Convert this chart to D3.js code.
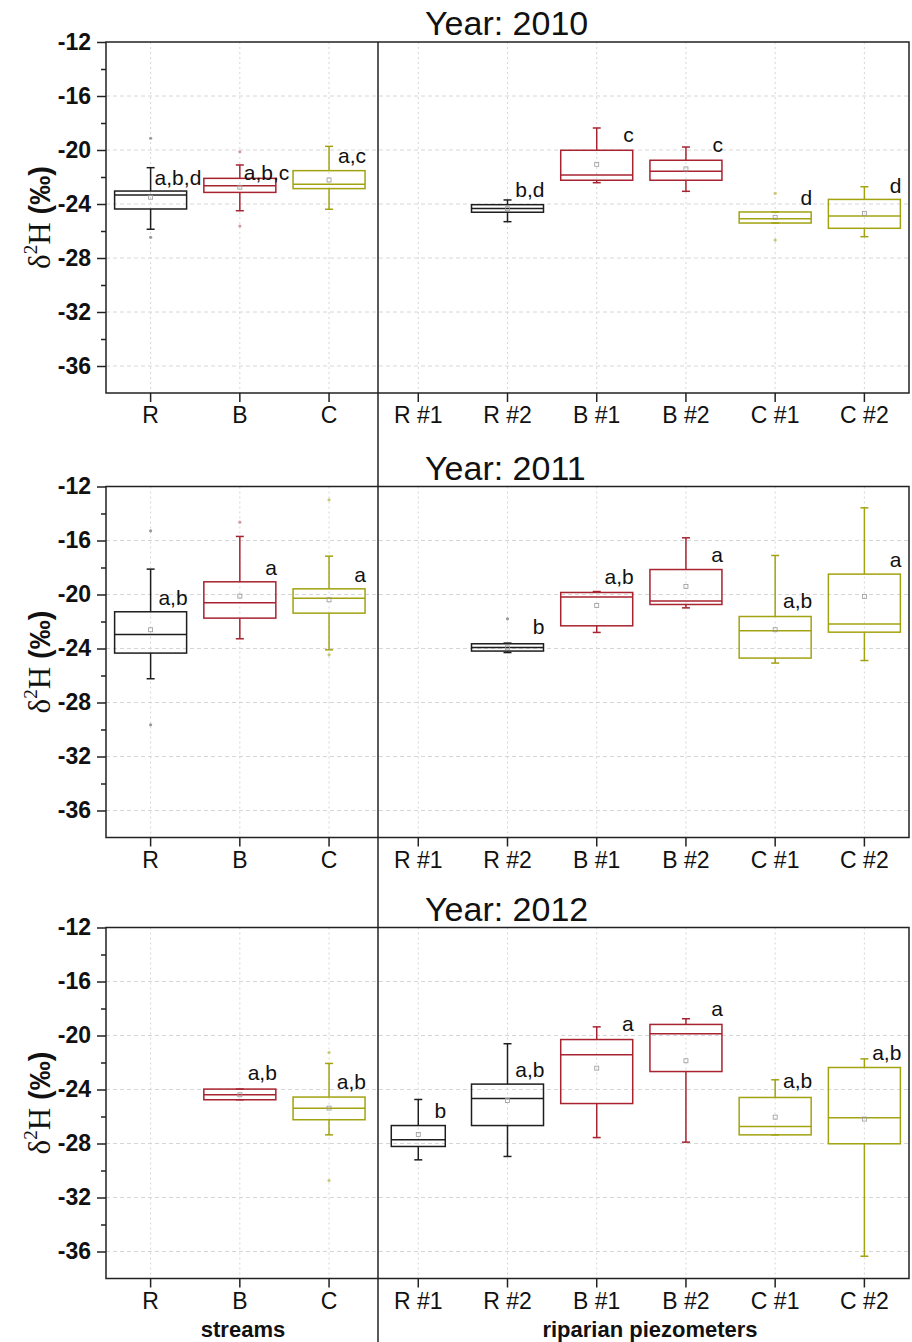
<!DOCTYPE html>
<html>
<head>
<meta charset="utf-8">
<script src="https://cdn.jsdelivr.net/npm/d3@7"></script>
<style>
body { margin: 0; background: #fff; }
svg text { font-family: "Liberation Sans", Arial, sans-serif; }
</style>
</head>
<body>
<div id="chart"></div>
<script>
// sites on the x axis: 3 streams, then 6 riparian piezometers
var sites = ["R", "B", "C", "R #1", "R #2", "B #1", "B #2", "C #1", "C #2"];
var years = ["2010", "2011", "2012"];
var yTicks = [-12, -16, -20, -24, -28, -32, -36];
var yMinor = [-14, -18, -22, -26, -30, -34];

// box stats per site: [whisker low, Q1, median, Q3, whisker high]
var box2010 = [
    [-25.87, -24.37, -23.33, -23.04, -21.31],
    [-24.50, -23.14, -22.64, -22.10, -21.11],
    [-24.39, -22.86, -22.54, -21.53, -19.73],
    null,
    [-25.31, -24.61, -24.34, -24.05, -23.70],
    [-22.42, -22.24, -21.85, -20.02, -18.37],
    [-23.06, -22.24, -21.58, -20.76, -19.78],
    [-25.41, -25.41, -25.09, -24.59, -24.59],
    [-26.42, -25.80, -24.89, -23.66, -22.72]
];
var box2011 = [
    [-26.24, -24.34, -22.96, -21.28, -18.12],
    [-23.28, -21.75, -20.61, -19.06, -15.70],
    [-24.10, -21.38, -20.27, -19.58, -17.16],
    null,
    [-24.30, -24.19, -23.93, -23.65, -23.60],
    [-22.81, -22.32, -20.19, -19.85, -19.78],
    [-20.99, -20.74, -20.49, -18.15, -15.80],
    [-25.08, -24.71, -22.69, -21.63, -17.11],
    [-24.89, -22.79, -22.19, -18.49, -13.58]
];
var box2012 = [
    null,
    [-24.76, -24.76, -24.39, -23.97, -23.97],
    [-27.36, -26.24, -25.38, -24.56, -22.07],
    [-29.21, -28.22, -27.73, -26.67, -24.74],
    [-28.96, -26.67, -24.67, -23.60, -20.61],
    [-27.56, -25.04, -21.43, -20.30, -19.36],
    [-27.90, -22.67, -19.87, -19.18, -18.76],
    [-27.36, -27.36, -26.74, -24.59, -23.28],
    [-36.35, -28.02, -26.10, -22.37, -21.73]
];

// means
var mean2010 = [-23.50, -22.76, -22.22, null, -24.35, -21.06, -21.40, -24.99, -24.69];
var mean2011 = [-22.61, -20.12, -20.39, null, -23.95, -20.81, -19.41, -22.61, -20.15];
var mean2012 = [null, -24.39, -25.38, -27.33, -24.81, -22.42, -21.87, -26.05, -26.19];

// outliers
var out2010 = [[-19.13, -26.47], [-20.13, -25.63], [], [], [], [], [], [-23.21, -26.67], []];
var out2011 = [[-15.28, -29.65], [-14.64], [-12.99, -24.47], [], [-21.80], [], [], [], []];
var out2012 = [[], [], [-21.26, -30.74], [], [], [], [], [], []];

// significance letters and the value where each sits
var letters2010 = ["a,b,d", "a,b,c", "a,c", "", "b,d", "c", "c", "d", "d"];
var letters2011 = ["a,b", "a", "a", "", "b", "a,b", "a", "a,b", "a"];
var letters2012 = ["", "a,b", "a,b", "b", "a,b", "a", "a", "a,b", "a,b"];
var letterAt2010 = [-22.59, -22.22, -20.99, null, -23.46, -19.39, -20.13, -24.07, -23.16];
var letterAt2011 = [-20.76, -18.54, -19.04, null, -22.93, -19.21, -17.56, -21.01, -17.93];
var letterAt2012 = [null, -23.28, -23.95, -26.12, -23.04, -19.70, -18.54, -23.90, -21.80];

var boxes = [box2010, box2011, box2012];
var means = [mean2010, mean2011, mean2012];
var outs = [out2010, out2011, out2012];
var letters = [letters2010, letters2011, letters2012];
var letterAt = [letterAt2010, letterAt2011, letterAt2012];

// layout
var width = 912, height = 1342;
var left = 106, right = 909, plotH = 351;
var tops = [42, 486.5, 927.5];

var svg = d3.select("#chart")
    .append("svg")
    .attr("width", width)
    .attr("height", height);

var x = d3.scaleBand()
    .domain(sites)
    .range([left, right]);
var step = x.bandwidth();

var lineColor = {R: "#1e1e1e", B: "#a82330", C: "#a3a312"};
var pale = {R: "#9a9a9a", B: "#d39aa0", C: "#c8c87a"};

function panel(i) {
    var top = tops[i];
    var y = d3.scaleLinear()
        .domain([-38, -12])
        .range([top + plotH, top]);
    var g = svg.append("g");

    // grid
    g.selectAll(null)
        .data(sites)
        .enter()
        .append("line")
        .attr("x1", function(d) { return x(d) + step / 2; })
        .attr("x2", function(d) { return x(d) + step / 2; })
        .attr("y1", top)
        .attr("y2", top + plotH)
        .attr("stroke", "#d6d6d6")
        .attr("stroke-dasharray", "2,3");
    g.selectAll(null)
        .data(yTicks.slice(1))
        .enter()
        .append("line")
        .attr("x1", left)
        .attr("x2", right)
        .attr("y1", function(d) { return y(d); })
        .attr("y2", function(d) { return y(d); })
        .attr("stroke", "#d6d6d6")
        .attr("stroke-dasharray", "4,3");

    // axes
    var ya = g.append("g")
        .attr("transform", "translate(" + left + ",0)")
        .call(d3.axisLeft(y).tickValues(yTicks).tickSize(9).tickPadding(6)
            .tickFormat(function(d) { return String(d); }));
    ya.selectAll("text")
        .style("font-size", "23px")
        .style("font-weight", "bold")
        .attr("fill", "#111");
    var ym = g.append("g")
        .attr("transform", "translate(" + left + ",0)")
        .call(d3.axisLeft(y).tickValues(yMinor).tickSize(5).tickFormat(""));
    var xa = g.append("g")
        .attr("transform", "translate(0," + (top + plotH) + ")")
        .call(d3.axisBottom(x).tickSize(9).tickPadding(5));
    xa.selectAll("text")
        .style("font-size", "23px")
        .attr("fill", "#111");
    [ya, ym, xa].forEach(function(a) {
        a.select(".domain").remove();
        a.selectAll(".tick line").attr("stroke", "#222").attr("stroke-width", 1.5);
    });

    // frame
    g.append("rect")
        .attr("x", left)
        .attr("y", top)
        .attr("width", right - left)
        .attr("height", plotH)
        .attr("fill", "none")
        .attr("stroke", "#222")
        .attr("stroke-width", 1.5);

    // title
    g.append("text")
        .attr("x", 425)
        .attr("y", top - 7)
        .style("font-size", "34px")
        .attr("fill", "#111")
        .text("Year: " + years[i]);

    // y label
    var yl = g.append("text")
        .attr("transform", "translate(50," + (top + plotH / 2) + ") rotate(-90)")
        .attr("text-anchor", "middle")
        .attr("fill", "#111");
    yl.append("tspan").style("font-family", "'Liberation Serif', serif").style("font-size", "31px").text("δ");
    yl.append("tspan").style("font-family", "'Liberation Serif', serif").style("font-size", "19px").attr("dy", -13).text("2");
    yl.append("tspan").style("font-family", "'Liberation Serif', serif").style("font-size", "31px").attr("dy", 13).text("H");
    yl.append("tspan").style("font-size", "29px").style("font-weight", "bold").text(" (‰)");

    // boxes
    sites.forEach(function(site, j) {
        var b = boxes[i][j];
        if (!b) return;
        var cx = x(site) + step / 2;
        var hw = (i == 2 && site == "R #1") ? 27 : 36;
        var col = lineColor[site[0]];
        var bg = g.append("g")
            .attr("stroke", col)
            .attr("stroke-width", 1.5)
            .attr("fill", "none");

        bg.append("line").attr("x1", cx).attr("x2", cx).attr("y1", y(b[0])).attr("y2", y(b[1]));
        bg.append("line").attr("x1", cx).attr("x2", cx).attr("y1", y(b[3])).attr("y2", y(b[4]));
        [b[0], b[4]].forEach(function(v) {
            bg.append("line").attr("x1", cx - 4).attr("x2", cx + 4).attr("y1", y(v)).attr("y2", y(v));
        });
        bg.append("rect")
            .attr("x", cx - hw)
            .attr("y", y(b[3]))
            .attr("width", hw * 2)
            .attr("height", y(b[1]) - y(b[3]));
        bg.append("line").attr("x1", cx - hw).attr("x2", cx + hw).attr("y1", y(b[2])).attr("y2", y(b[2]));

        // mean and outliers
        g.append("rect")
            .attr("x", cx - 2)
            .attr("y", y(means[i][j]) - 2)
            .attr("width", 4)
            .attr("height", 4)
            .attr("fill", "none")
            .attr("stroke", "#999")
            .attr("stroke-width", 0.8);
        g.selectAll(null)
            .data(outs[i][j])
            .enter()
            .append("circle")
            .attr("cx", cx)
            .attr("cy", function(d) { return y(d); })
            .attr("r", 1.6)
            .attr("fill", pale[site[0]]);

        // letters
        if (letters[i][j]) {
            var t = g.append("text")
                .attr("y", y(letterAt[i][j]))
                .style("font-size", "21px")
                .attr("fill", "#111")
                .text(letters[i][j]);
            var w = t.node().getComputedTextLength();
            t.attr("x", Math.max(cx + 4, cx + hw + 1 - w));
        }
    });
}

years.forEach(function(yr, i) { panel(i); });

// divider between streams and piezometers
svg.append("line")
    .attr("x1", 378)
    .attr("x2", 378)
    .attr("y1", tops[0])
    .attr("y2", height)
    .attr("stroke", "#222")
    .attr("stroke-width", 1.5);

// group labels
svg.append("text")
    .attr("x", 243)
    .attr("y", 1337)
    .attr("text-anchor", "middle")
    .style("font-size", "22px")
    .style("font-weight", "bold")
    .attr("fill", "#111")
    .text("streams");
svg.append("text")
    .attr("x", 650)
    .attr("y", 1337)
    .attr("text-anchor", "middle")
    .style("font-size", "22px")
    .style("font-weight", "bold")
    .attr("fill", "#111")
    .text("riparian piezometers");
</script>
</body>
</html>
